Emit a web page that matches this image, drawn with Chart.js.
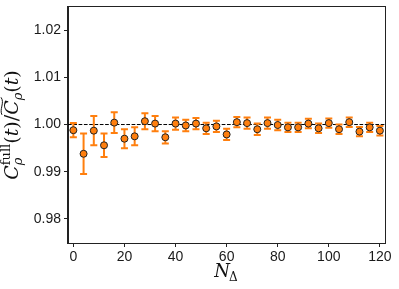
<!DOCTYPE html>
<html>
<head>
<meta charset="utf-8">
<script src="https://cdn.jsdelivr.net/npm/chart.js@4.4.1/dist/chart.umd.min.js"></script>
<style>
  html, body { margin: 0; padding: 0; background: #fff; }
  #wrap { width: 399px; height: 289px; }
</style>
</head>
<body>
<div id="wrap"><canvas id="ratioChart" width="399" height="289"></canvas></div>
<script>
// N_Delta values and measured ratio C_full / C_tilde with error bars
const nDelta = [0, 4, 8, 12, 16, 20, 24, 28, 32, 36, 40, 44, 48, 52, 56, 60,
  64, 68, 72, 76, 80, 84, 88, 92, 96, 100, 104, 108, 112, 116, 120];
const ratio = [0.9988, 0.9938, 0.9987, 0.9956, 1.0004, 0.9970, 0.9975, 1.0007,
  1.0002, 0.9973, 1.0002, 0.9998, 1.0002, 0.9992, 0.9996, 0.9979,
  1.0005, 1.0003, 0.9990, 1.0003, 0.9999, 0.9994, 0.9994, 1.0002,
  0.9992, 1.0003, 0.9990, 1.0005, 0.9985, 0.9994, 0.9987];
const ratioErr = [0.0015, 0.0043, 0.0031, 0.0025, 0.0022, 0.0020, 0.0019, 0.0017,
  0.0016, 0.0013, 0.0013, 0.0012, 0.0012, 0.0012, 0.0012, 0.0012,
  0.0011, 0.0012, 0.0012, 0.0012, 0.0011, 0.0010, 0.0010, 0.0010,
  0.0010, 0.0010, 0.0010, 0.0010, 0.0010, 0.0010, 0.0010];
const xTicks = [0, 20, 40, 60, 80, 100, 120];
const yTicks = [0.98, 0.99, 1.00, 1.01, 1.02];
const refLine = 1.0;

const orange = '#ff7f0e';
const tickFont = { family: '"Liberation Sans", Arial, sans-serif', size: 14 };
const serif = '"DejaVu Serif", "Liberation Serif", serif';

// dashed reference line + error bars, drawn under the markers
const errorBars = {
  id: 'errorBars',
  beforeDatasetsDraw(chart) {
    const ctx = chart.ctx;
    const x = chart.scales.x, y = chart.scales.y;
    const area = chart.chartArea;
    ctx.save();
    ctx.beginPath();
    ctx.rect(area.left, area.top, area.right - area.left, area.bottom - area.top);
    ctx.clip();

    ctx.strokeStyle = '#000';
    ctx.lineWidth = 1;
    ctx.setLineDash([3.7, 1.6]);
    ctx.beginPath();
    ctx.moveTo(area.left, y.getPixelForValue(refLine));
    ctx.lineTo(area.right, y.getPixelForValue(refLine));
    ctx.stroke();
    ctx.setLineDash([]);

    ctx.strokeStyle = orange;
    ctx.lineWidth = 2;
    for (let i = 0; i < nDelta.length; i++) {
      const px = x.getPixelForValue(nDelta[i]);
      const top = y.getPixelForValue(ratio[i] + ratioErr[i]);
      const bot = y.getPixelForValue(ratio[i] - ratioErr[i]);
      ctx.beginPath();
      ctx.moveTo(px, top); ctx.lineTo(px, bot);
      ctx.moveTo(px - 3.5, top); ctx.lineTo(px + 3.5, top);
      ctx.moveTo(px - 3.5, bot); ctx.lineTo(px + 3.5, bot);
      ctx.stroke();
    }
    ctx.restore();
  }
};

// top/right spines and the math-style axis titles
const frameAndTitles = {
  id: 'frameAndTitles',
  afterDraw(chart) {
    const ctx = chart.ctx;
    const area = chart.chartArea;
    ctx.save();
    ctx.strokeStyle = '#222';
    ctx.lineWidth = 1;
    ctx.strokeRect(area.left - 0.5, area.top - 0.5, area.right - area.left + 1, area.bottom - area.top + 1);

    ctx.fillStyle = '#111';
    ctx.textBaseline = 'alphabetic';

    // x title: N_Delta
    const cx = (area.left + area.right) / 2;
    ctx.font = 'italic 18px ' + serif;
    const wN = ctx.measureText('N').width;
    ctx.font = '12px ' + serif;
    const wD = ctx.measureText('Δ').width;
    let sx = cx - (wN + wD) / 2;
    ctx.font = 'italic 18px ' + serif;
    ctx.fillText('N', sx, 277);
    ctx.font = '12px ' + serif;
    ctx.fillText('Δ', sx + wN - 1, 281);

    // y title: C_rho^full(t) / C~_rho(t)
    const big = 19, small = 13;
    const pieces = [
      { t: 'C', f: 'italic ' + big + 'px ' + serif },
      { t: 'full', f: small + 'px ' + serif, dy: -8, stack: true },
      { t: 'ρ', f: 'italic ' + small + 'px ' + serif, dy: 4 },
      { t: '(', f: big + 'px ' + serif },
      { t: 't', f: 'italic ' + big + 'px ' + serif },
      { t: ')/', f: big + 'px ' + serif },
      { t: 'C', f: 'italic ' + big + 'px ' + serif, tilde: true },
      { t: 'ρ', f: 'italic ' + small + 'px ' + serif, dy: 4 },
      { t: '(', f: big + 'px ' + serif },
      { t: 't', f: 'italic ' + big + 'px ' + serif },
      { t: ')', f: big + 'px ' + serif }
    ];
    // widths (superscript and following subscript share horizontal space)
    let total = 0;
    const widths = pieces.map(p => { ctx.font = p.f; return ctx.measureText(p.t).width; });
    for (let i = 0; i < pieces.length; i++) {
      if (pieces[i].stack) { total += Math.max(widths[i], widths[i + 1]); i++; }
      else total += widths[i];
    }
    const midY = (area.top + area.bottom) / 2;
    ctx.translate(11, midY);
    ctx.rotate(-Math.PI / 2);
    let px = -total / 2;
    const base = 7;
    for (let i = 0; i < pieces.length; i++) {
      const p = pieces[i];
      ctx.font = p.f;
      if (p.stack) {
        const q = pieces[i + 1];
        ctx.fillText(p.t, px, base + p.dy);
        ctx.font = q.f;
        ctx.fillText(q.t, px, base + q.dy);
        px += Math.max(widths[i], widths[i + 1]);
        i++;
        continue;
      }
      ctx.fillText(p.t, px, base + (p.dy || 0));
      if (p.tilde) {
        ctx.strokeStyle = '#111';
        ctx.lineWidth = 1;
        const x0 = px, x1 = px + widths[i] + 3, ty = base - 16;
        ctx.beginPath();
        ctx.moveTo(x0, ty);
        ctx.bezierCurveTo(x0 + (x1 - x0) * 0.3, ty - 3, x0 + (x1 - x0) * 0.7, ty + 3, x1, ty - 1);
        ctx.stroke();
      }
      px += widths[i];
    }
    ctx.restore();
  }
};

new Chart(document.getElementById('ratioChart').getContext('2d'), {
  type: 'scatter',
  data: {
    datasets: [{
      data: nDelta.map((n, i) => ({ x: n, y: ratio[i] })),
      backgroundColor: orange,
      borderColor: '#222',
      borderWidth: 1,
      pointRadius: 3.5,
      pointHoverRadius: 3.5
    }]
  },
  options: {
    responsive: false,
    animation: false,
    layout: { padding: { left: 0, right: 14, top: 7, bottom: 0 } },
    plugins: { legend: { display: false }, tooltip: { enabled: false } },
    scales: {
      x: {
        type: 'linear',
        min: -2.1,
        max: 122,
        afterBuildTicks: s => { s.ticks = xTicks.map(v => ({ value: v })); },
        afterFit: s => { s.height = 46; s.paddingLeft = 0; s.paddingRight = 0; },
        grid: { drawOnChartArea: false, drawTicks: true, tickLength: 4, color: '#222' },
        border: { display: true, color: '#222' },
        ticks: { font: tickFont, color: '#1a1a1a', padding: 2, maxRotation: 0 }
      },
      y: {
        min: 0.9749,
        max: 1.0249,
        afterBuildTicks: s => { s.ticks = yTicks.map(v => ({ value: v })); },
        afterFit: s => { s.width = 68; s.paddingTop = 0; s.paddingBottom = 0; },
        grid: { drawOnChartArea: false, drawTicks: true, tickLength: 4, color: '#222' },
        border: { display: true, color: '#222' },
        ticks: { font: tickFont, color: '#1a1a1a', padding: 3, callback: v => v.toFixed(2) }
      }
    }
  },
  plugins: [errorBars, frameAndTitles]
});
</script>
</body>
</html>
